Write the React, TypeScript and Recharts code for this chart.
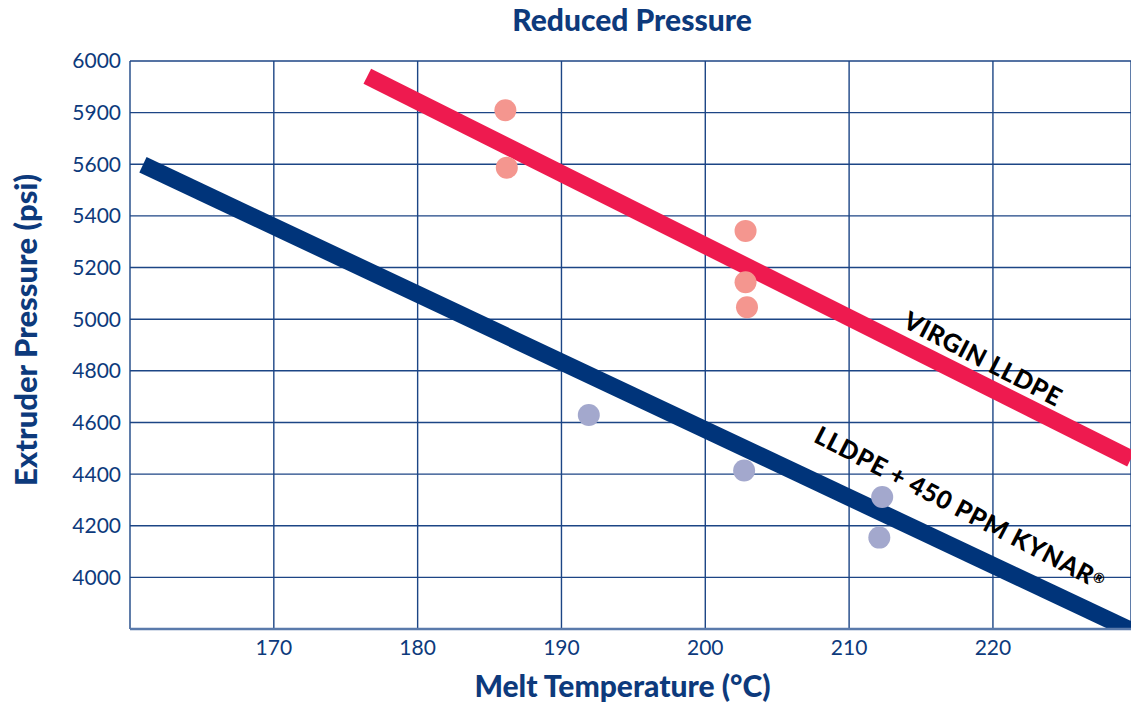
import React from 'react';
import { ComposedChart, XAxis, YAxis, CartesianGrid, Line, Scatter, Customized, Label } from 'recharts';

// Axis ticks (the y scale is drawn evenly spaced, the printed labels are kept as in the source)
const xTicks = [170, 180, 190, 200, 210, 220];
const yTickValues = [4000, 4200, 4400, 4600, 4800, 5000, 5200, 5400, 5600, 5800, 6000];
const yTickLabels = ['4000', '4200', '4400', '4600', '4800', '5000', '5200', '5400', '5600', '5900', '6000'];

// Fitted trend lines
const virginFit = [
  { temp: 176.5, psi: 5941 },
  { temp: 229.6, psi: 4459 },
];
const kynarFit = [
  { temp: 160.9, psi: 5598 },
  { temp: 229.6, psi: 3795 },
];

// Measured points
const virginPoints = [
  { temp: 186.1, psi: 5809 },
  { temp: 186.2, psi: 5587 },
  { temp: 202.8, psi: 5342 },
  { temp: 202.8, psi: 5143 },
  { temp: 202.9, psi: 5046 },
];
const kynarPoints = [
  { temp: 191.9, psi: 4629 },
  { temp: 202.7, psi: 4414 },
  { temp: 212.3, psi: 4311 },
  { temp: 212.1, psi: 4154 },
];

// Series names written along the lines
const virginTag = [{ temp: 219.35, psi: 4850, text: 'VIRGIN LLDPE', mark: '' }];
const kynarTag = [{ temp: 217.75, psi: 4272, text: 'LLDPE + 450 PPM KYNAR', mark: '®' }];

const NAVY = '#0d3a7c';
const FONT = 'Lato, "Open Sans", sans-serif';
const HEAVY = '"Lato Black", Lato, "Open Sans", sans-serif';

const Dot = (fill: string) => (props: any) => {
  const { cx, cy } = props;
  if (cx == null || cy == null) return null;
  return <circle cx={cx} cy={cy} r={11} fill={fill} />;
};

const SlantedText = (props: any) => {
  const { cx, cy, payload } = props;
  if (cx == null || cy == null) return null;
  return (
    <text
      x={cx}
      y={cy}
      transform={`rotate(27.5 ${cx} ${cy})`}
      textAnchor="middle"
      dominantBaseline="central"
      fontFamily={HEAVY}
      fontWeight={900}
      fontSize={25}
      letterSpacing={0.6}
      fill="#000"
    >
      {payload.text}
      {payload.mark && (
        <tspan fontSize={14} dy={-2}>{payload.mark}</tspan>
      )}
    </text>
  );
};

const Title = () => (
  <text x={632} y={31} textAnchor="middle" fontFamily={HEAVY} fontWeight={900} fontSize={30} fill={NAVY}>
    Reduced Pressure
  </text>
);

export default function App() {
  return (
    <div style={{ width: 1131, height: 704 }}>
      <style>{`body{margin:0;overflow:hidden;}`}</style>
      <ComposedChart width={1131} height={704} margin={{ top: 61, right: 0, bottom: 0, left: 0 }}>
        <CartesianGrid stroke="#1c4585" strokeWidth={1.4} />
        <XAxis
          type="number"
          dataKey="temp"
          domain={[160, 229.6]}
          ticks={xTicks}
          allowDataOverflow
          height={75}
          axisLine={{ stroke: '#5a7aab', strokeWidth: 2.5 }}
          tickLine={false}
          tickMargin={5}
          tick={{ fill: NAVY, fontSize: 21, fontFamily: FONT }}
        >
          <Label
            value="Melt Temperature (°C)"
            position="insideBottom"
            offset={7}
            dx={-8}
            style={{ fill: NAVY, fontSize: 30, fontWeight: 900, fontFamily: HEAVY }}
          />
        </XAxis>
        <YAxis
          type="number"
          dataKey="psi"
          domain={[3800, 6000]}
          ticks={yTickValues}
          allowDataOverflow
          width={130}
          axisLine={false}
          tickLine={false}
          tickMargin={3}
          tickFormatter={(v: number) => yTickLabels[yTickValues.indexOf(v)]}
          tick={{ fill: NAVY, fontSize: 21, fontFamily: FONT }}
        >
          <Label
            value="Extruder Pressure (psi)"
            angle={-90}
            position="insideLeft"
            offset={0}
            content={(p: any) => {
              const vb = p.viewBox || {};
              const cx = 25;
              const cy = (vb.y ?? 61) + (vb.height ?? 568) / 2 - 15;
              return (
                <text
                  x={cx}
                  y={cy}
                  transform={`rotate(-90 ${cx} ${cy})`}
                  textAnchor="middle"
                  dominantBaseline="central"
                  fontFamily={HEAVY}
                  fontWeight={900}
                  fontSize={31}
                  fill={NAVY}
                >
                  Extruder Pressure (psi)
                </text>
              );
            }}
          />
        </YAxis>
        <Line data={kynarFit} dataKey="psi" stroke="#00347a" strokeWidth={17} dot={false} activeDot={false} isAnimationActive={false} />
        <Line data={virginFit} dataKey="psi" stroke="#ee1a4f" strokeWidth={17} dot={false} activeDot={false} isAnimationActive={false} />
        <Scatter data={virginPoints} dataKey="psi" shape={Dot('#f4968f')} isAnimationActive={false} />
        <Scatter data={kynarPoints} dataKey="psi" shape={Dot('#a3a8cd')} isAnimationActive={false} />
        <Scatter data={virginTag} dataKey="psi" shape={SlantedText} isAnimationActive={false} />
        <Scatter data={kynarTag} dataKey="psi" shape={SlantedText} isAnimationActive={false} />
        <Customized component={Title} />
      </ComposedChart>
    </div>
  );
}
